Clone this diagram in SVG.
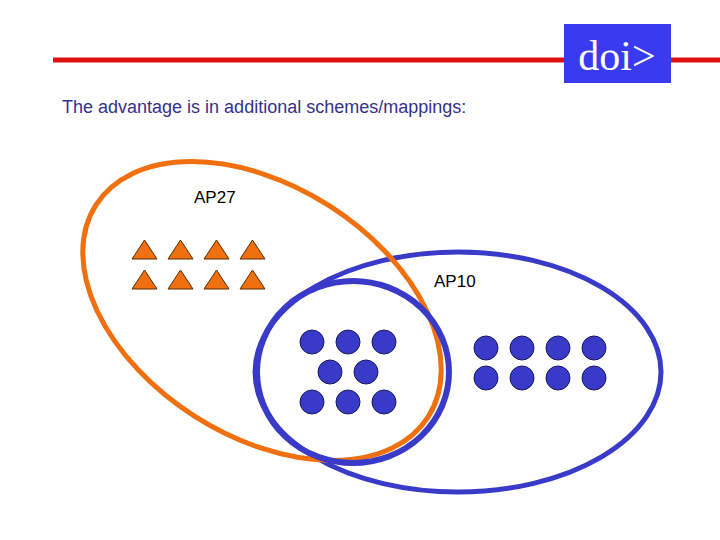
<svg xmlns="http://www.w3.org/2000/svg" width="720" height="540" viewBox="0 0 720 540">
<style>
.tri{fill:#f07010;stroke:#5a2a00;stroke-width:1}
.dot{fill:#3a3ac8;stroke:#1a1a60;stroke-width:1}
.lbl{font-family:"Liberation Sans",sans-serif;font-size:17px;fill:#000}
</style>
<defs>
<polygon id="t" class="tri" points="12.5,0 25,19 0,19"/>
<circle id="c" class="dot" r="12"/>
</defs>
<rect width="720" height="540" fill="#fff"/>
<g id="header">
<line x1="53" y1="60" x2="720" y2="60" stroke="#e01010" stroke-width="5"/>
<rect x="564" y="24" width="107" height="59" fill="#3a3af0"/>
<text x="617" y="70" text-anchor="middle" font-family="'Liberation Serif',serif" font-size="42" fill="#fff">doi&gt;</text>
<text x="62" y="113" font-family="'Liberation Sans',sans-serif" font-size="18" fill="#33338a">The advantage is in additional schemes/mappings:</text>
</g>
<g id="AP10">
<ellipse cx="458" cy="372" rx="203" ry="120" fill="none" stroke="#3a3ac8" stroke-width="5"/>
<text class="lbl" x="434" y="287">AP10</text>
<use href="#c" x="486" y="348"/><use href="#c" x="522" y="348"/><use href="#c" x="558" y="348"/><use href="#c" x="594" y="348"/>
<use href="#c" x="486" y="378"/><use href="#c" x="522" y="378"/><use href="#c" x="558" y="378"/><use href="#c" x="594" y="378"/>
</g>
<g id="AP27">
<ellipse cx="262" cy="311" rx="197" ry="125" transform="rotate(32.5 262 311)" fill="none" stroke="#f07010" stroke-width="5"/>
<text class="lbl" x="194" y="203">AP27</text>
<use href="#t" x="132" y="240"/><use href="#t" x="168" y="240"/><use href="#t" x="204" y="240"/><use href="#t" x="240" y="240"/>
<use href="#t" x="132" y="270"/><use href="#t" x="168" y="270"/><use href="#t" x="204" y="270"/><use href="#t" x="240" y="270"/>
</g>
<g id="overlap">
<ellipse cx="353" cy="372" rx="96" ry="91" fill="none" stroke="#3a3ac8" stroke-width="6"/>
<use href="#c" x="312" y="342"/><use href="#c" x="348" y="342"/><use href="#c" x="384" y="342"/>
<use href="#c" x="330" y="372"/><use href="#c" x="366" y="372"/>
<use href="#c" x="312" y="402"/><use href="#c" x="348" y="402"/><use href="#c" x="384" y="402"/>
</g>
<g id="connectors"/>
</svg>
